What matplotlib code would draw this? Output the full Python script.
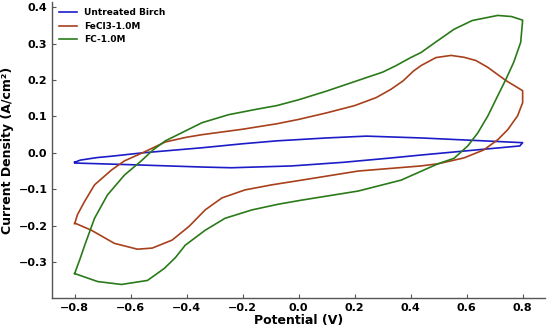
import matplotlib
matplotlib.use("Agg")
import matplotlib.pyplot as plt

# Untreated Birch (closed loop: forward then reverse scan)
birch_v = [-0.8, -0.78, -0.72, -0.665, -0.558, -0.345, -0.2, -0.078, 0.1, 0.242, 0.437, 0.633, 0.8,
           0.79, 0.676, 0.437, 0.331, 0.16, -0.025, -0.24, -0.345, -0.583, -0.8, -0.8]
birch_i = [-0.026, -0.02, -0.013, -0.009, 0.0, 0.014, 0.025, 0.033, 0.041, 0.046, 0.041, 0.034, 0.028,
           0.019, 0.011, -0.006, -0.014, -0.026, -0.036, -0.041, -0.039, -0.033, -0.028, -0.026]

# FeCl3-1.0M
fecl_v = [-0.8, -0.79, -0.764, -0.729, -0.668, -0.622, -0.558, -0.476, -0.4, -0.345, -0.2,
          -0.078, 0.0, 0.1, 0.2, 0.277, 0.33, 0.373, 0.41, 0.437, 0.49, 0.544, 0.59, 0.633, 0.676, 0.74, 0.8,
          0.8, 0.782, 0.747, 0.711, 0.661, 0.59, 0.498, 0.437, 0.213, 0.011, -0.096, -0.192, -0.274,
          -0.334, -0.391, -0.452, -0.523, -0.576, -0.658, -0.74, -0.8]
fecl_i = [-0.195, -0.17, -0.133, -0.088, -0.047, -0.022, 0.0, 0.03, 0.043, 0.05, 0.065,
          0.08, 0.092, 0.11, 0.13, 0.152, 0.175, 0.198, 0.225, 0.24, 0.262, 0.268, 0.263, 0.254, 0.235, 0.199, 0.171,
          0.138, 0.102, 0.064, 0.036, 0.008, -0.014, -0.03, -0.036, -0.05, -0.075, -0.088, -0.102, -0.124,
          -0.157, -0.202, -0.24, -0.262, -0.265, -0.249, -0.213, -0.193]

# FC-1.0M
fc_v = [-0.8, -0.78, -0.764, -0.729, -0.683, -0.622, -0.562, -0.52, -0.476, -0.4, -0.345, -0.25,
        -0.15, -0.078, 0.0, 0.1, 0.2, 0.242, 0.3, 0.348, 0.4, 0.437, 0.49, 0.555, 0.62, 0.711, 0.76, 0.8,
        0.793, 0.768, 0.74, 0.711, 0.676, 0.64, 0.604, 0.555, 0.498, 0.448, 0.366, 0.213, 0.011, -0.071, -0.167,
        -0.263, -0.334, -0.405, -0.44, -0.48, -0.54, -0.633, -0.718, -0.8]
fc_i = [-0.332, -0.29, -0.254, -0.18, -0.116, -0.061, -0.022, 0.008, 0.033, 0.062, 0.083, 0.105,
        0.12, 0.13, 0.146, 0.17, 0.196, 0.207, 0.222, 0.24, 0.262, 0.276, 0.305, 0.34, 0.364, 0.378, 0.375, 0.365,
        0.304, 0.249, 0.202, 0.157, 0.102, 0.055, 0.019, -0.015, -0.03, -0.047, -0.075, -0.105, -0.13, -0.141, -0.157,
        -0.18, -0.213, -0.254, -0.288, -0.318, -0.351, -0.362, -0.354, -0.332]

labels = ["Untreated Birch", "FeCl3-1.0M", "FC-1.0M"]
colors = ["#1c1cc8", "#a8401c", "#2a7a1a"]

fig = plt.figure(figsize=(5.5, 3.31), dpi=100)
ax = fig.add_axes([0.095, 0.10, 0.896, 0.894])

for v, i, lab, c in zip([birch_v, fecl_v, fc_v], [birch_i, fecl_i, fc_i], labels, colors):
    ax.plot(v, i, color=c, lw=1.2, label=lab)

ax.set_xticks([-0.8, -0.6, -0.4, -0.2, 0.0, 0.2, 0.4, 0.6, 0.8])
ax.set_yticks([-0.3, -0.2, -0.1, 0.0, 0.1, 0.2, 0.3, 0.4])
ax.tick_params(direction="in", length=3, width=0.8, color="#555555", labelsize=8)
for lab in ax.get_xticklabels() + ax.get_yticklabels():
    lab.set_fontweight("bold")
ax.spines["top"].set_visible(False)
ax.spines["right"].set_visible(False)
for s in ["left", "bottom"]:
    ax.spines[s].set_color("#555555")
    ax.spines[s].set_linewidth(1.0)

ax.set_xlabel("Potential (V)", fontsize=9, fontweight="bold", labelpad=1)
ax.set_ylabel("Current Density (A/cm²)", fontsize=9, fontweight="bold", labelpad=3)

ax.legend(loc="upper left", frameon=False, prop={"weight": "bold", "size": 6.5},
          handlelength=2.0, borderaxespad=0.3, labelspacing=0.5)

fig.savefig("out.png", dpi=100)
